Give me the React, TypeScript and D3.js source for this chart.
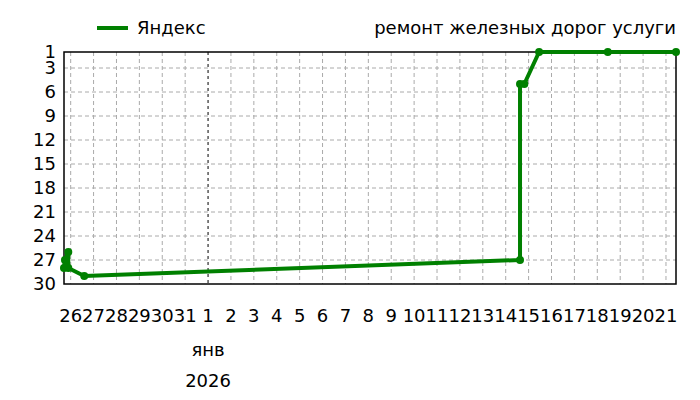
import React from "react";
import * as d3 from "d3";

const seriesName = "Яндекс";
const chartTitle = "ремонт железных дорог услуги";
const pointTimes = [
  "2025-12-25T17:00",
  "2025-12-25T18:00",
  "2025-12-25T21:30",
  "2025-12-25T21:30",
  "2025-12-26T14:15",
  "2026-01-14T15:00",
  "2026-01-14T15:00",
  "2026-01-14T19:30",
  "2026-01-15T11:00",
  "2026-01-18T11:00",
  "2026-01-21T10:30",
];
const pointRanks = [28, 27, 26, 28, 29, 27, 5, 5, 1, 1, 1];
const yTickValues = [1, 3, 6, 9, 12, 15, 18, 21, 24, 27, 30];
const yGridValues = [3, 6, 9, 12, 15, 18, 21, 24, 27];
const monthLabel = "янв";
const yearLabel = "2026";
const yearStart = "2026-01-01T00:00";

const W = 700;
const H = 400;
const M = { left: 64, right: 676, top: 52, bottom: 284 };
const FONT = "'DejaVu Sans', Verdana, sans-serif";
const GREEN = "#008000";
const FS = 18;

export default function App() {
  const parse = (s: string) => new Date(s);
  const data = pointTimes.map((t, i) => ({ t: parse(t), r: pointRanks[i] }));
  const x = d3
    .scaleTime()
    .domain(d3.extent(data, (d) => d.t) as [Date, Date])
    .range([M.left, M.right]);
  const y = d3.scaleLinear().domain([1, 30]).range([M.top, M.bottom]);
  const days = d3.timeDay.range(d3.timeDay.ceil(x.domain()[0]), x.domain()[1]);
  const ny = parse(yearStart);
  const line = d3
    .line<{ t: Date; r: number }>()
    .x((d) => x(d.t))
    .y((d) => y(d.r));

  return (
    <svg width={W} height={H} style={{ position: "absolute", left: 0, top: 0 }} fontFamily={FONT}>
      <rect width={W} height={H} fill="#fff" />
      {/* legend */}
      <line x1={97} x2={128} y1={28} y2={28} stroke={GREEN} strokeWidth={4} />
      <text x={137} y={28} dy="0.35em" fontSize={FS} fill="#000">
        {seriesName}
      </text>
      <text x={M.right} y={28} dy="0.35em" fontSize={FS} fill="#000" textAnchor="end">
        {chartTitle}
      </text>
      {/* grid */}
      {yGridValues.map((v) => (
        <line
          key={"gy" + v}
          x1={M.left}
          x2={M.right}
          y1={y(v)}
          y2={y(v)}
          stroke="#aaa"
          strokeDasharray="4,3"
        />
      ))}
      {days.map((d) => {
        const isNY = +d === +ny;
        return (
          <line
            key={"gx" + +d}
            x1={x(d)}
            x2={x(d)}
            y1={M.top}
            y2={M.bottom}
            stroke={isNY ? "#000" : "#aaa"}
            strokeDasharray={isNY ? "3,3" : "4,3"}
          />
        );
      })}
      <rect
        x={M.left}
        y={M.top}
        width={M.right - M.left}
        height={M.bottom - M.top}
        fill="none"
        stroke="#000"
        strokeWidth={1.5}
      />
      {/* y labels */}
      {yTickValues.map((v) => (
        <text key={"yl" + v} x={56} y={y(v)} dy="0.35em" fontSize={FS} textAnchor="end" fill="#000">
          {v}
        </text>
      ))}
      {/* x labels */}
      {days.map((d) => (
        <text key={"xl" + +d} x={x(d)} y={316} dy="0.35em" fontSize={FS} textAnchor="middle" fill="#000">
          {d3.timeFormat("%-d")(d)}
        </text>
      ))}
      <text x={x(ny)} y={350} dy="0.35em" fontSize={FS} textAnchor="middle" fill="#000">
        {monthLabel}
      </text>
      <text x={x(ny)} y={381} dy="0.35em" fontSize={FS} textAnchor="middle" fill="#000">
        {yearLabel}
      </text>
      {/* series */}
      <path d={line(data) || ""} fill="none" stroke={GREEN} strokeWidth={4} strokeLinejoin="round" />
      {data.map((d, i) => (
        <circle key={"p" + i} cx={x(d.t)} cy={y(d.r)} r={4} fill={GREEN} />
      ))}
    </svg>
  );
}
